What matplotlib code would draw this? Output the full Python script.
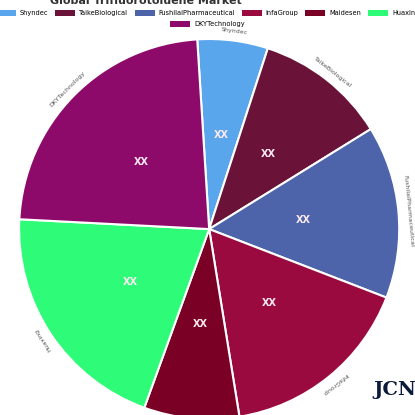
import numpy as np
import matplotlib.pyplot as plt
from matplotlib.patches import Patch

# data
companies = ["Shyndec", "TaikeBiological", "FushilaiPharmaceutical", "InfaGroup",
             "Maidesen", "Huaxing", "DKYTechnology"]
values = [6.0, 11.2, 14.7, 16.6, 8.1, 20.3, 23.2]
colors = ["#5aa6ec", "#6a1238", "#4e64aa", "#9a0a3e", "#7a0025", "#2efc78", "#8e0a6a"]
inner_labels = ["XX"] * 7

fig = plt.figure(figsize=(4.15, 4.15), dpi=100)
ax = fig.add_axes([0.046, -0.01, 0.916, 0.916])

start = 93.6
wedges, texts = ax.pie(values, colors=colors, startangle=start, counterclock=False,
                       radius=1.0, wedgeprops=dict(edgecolor="white", linewidth=1.5))
ax.set_xlim(-1, 1)
ax.set_ylim(-1, 1)
ax.set_aspect("equal")

# labels inside and outside
for w, name, lab in zip(wedges, companies, inner_labels):
    mid = np.deg2rad((w.theta1 + w.theta2) / 2)
    ax.text(0.5 * np.cos(mid), 0.5 * np.sin(mid), lab, color="#fbe9f2",
            fontsize=7, fontweight="bold", ha="center", va="center")
    ang = np.rad2deg(mid)
    ax.text(1.05 * np.cos(mid), 1.05 * np.sin(mid), name, color="#555555",
            fontsize=4.5, ha="center", va="center", rotation=ang - 90,
            rotation_mode="anchor", clip_on=False)

handles = [Patch(facecolor=c, label=n) for c, n in zip(colors, companies)]
fig.legend(handles=handles[:6], loc="center", bbox_to_anchor=(0.5, 0.968), ncol=6,
           frameon=False, fontsize=4.8, handlelength=3, handleheight=1,
           columnspacing=1.0, handletextpad=0.6)
fig.legend(handles=handles[6:], loc="center", bbox_to_anchor=(0.5, 0.942), ncol=1,
           frameon=False, fontsize=4.8, handlelength=3, handleheight=1,
           handletextpad=0.6)

fig.text(0.12, 0.998, "Global Trifluorotoluene Market", fontsize=8, fontweight="bold",
         color="#333333", va="center", ha="left")
fig.text(0.9, 0.06, "JCN", fontsize=14, fontweight="bold", color="#0b1a3a",
         family="DejaVu Serif", ha="left", va="center")

fig.savefig("out.png", dpi=100)
